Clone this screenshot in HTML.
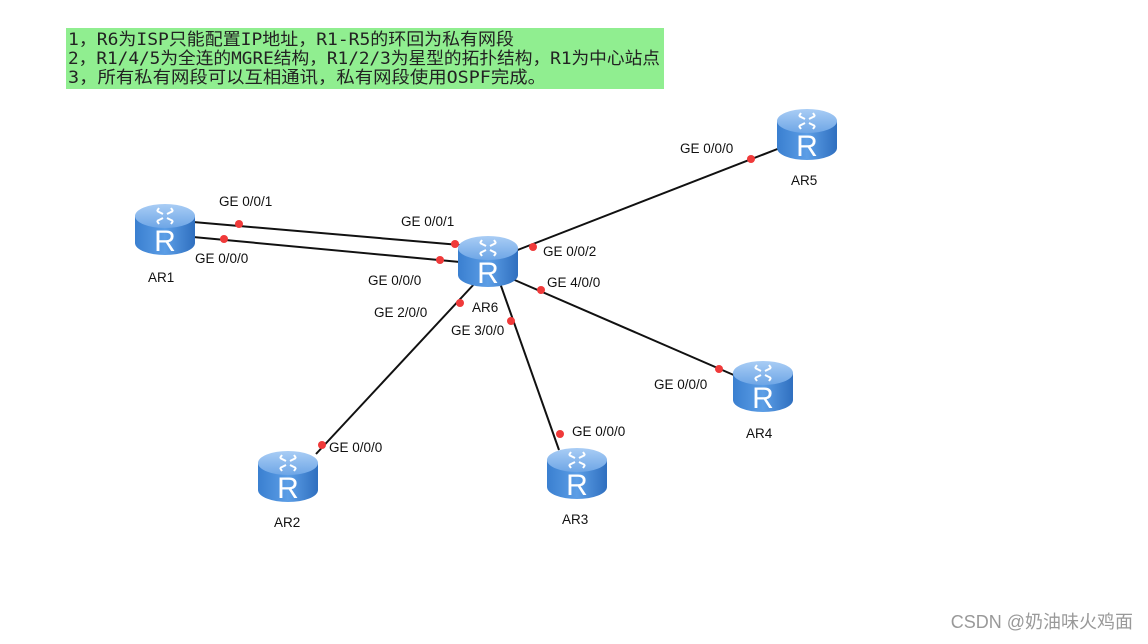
<!DOCTYPE html>
<html><head><meta charset="utf-8">
<style>
html,body{margin:0;padding:0;background:#fff;}
svg{display:block;}
.t{font-family:"Liberation Sans","Noto Sans CJK SC",sans-serif;font-size:13.5px;fill:#111;}
.n{font-family:"DejaVu Sans Mono","Noto Sans CJK SC",monospace;font-size:17px;fill:#222;}
</style></head><body>
<svg width="1148" height="644" viewBox="0 0 1148 644" xmlns="http://www.w3.org/2000/svg">
<defs>
<linearGradient id="body" x1="0" x2="1" y1="0" y2="0">
<stop offset="0" stop-color="#3a7fd0"/><stop offset="0.5" stop-color="#5c9ee6"/><stop offset="1" stop-color="#2f6fbf"/>
</linearGradient>
<linearGradient id="top" x1="0" x2="0" y1="0" y2="1">
<stop offset="0" stop-color="#a9cdf5"/><stop offset="1" stop-color="#6ea6e6"/>
</linearGradient>
<g id="r">
<path d="M0 13 L0 40 A30 12 0 0 0 60 40 L60 13 Z" fill="url(#body)"/>
<ellipse cx="30" cy="13" rx="30" ry="12" fill="url(#top)"/>
<g stroke="#fff" stroke-width="2" fill="none">
<path d="M22 8 L28 11 M22 8 L24 5"/><path d="M38 18 L32 15 M38 18 L36 21"/>
<path d="M38 8 L32 11 M38 8 L36 5"/><path d="M22 18 L28 15 M22 18 L24 21"/>
</g>
<text x="30" y="48" text-anchor="middle" font-family="Liberation Sans,sans-serif" font-size="30" fill="#fff">R</text>
</g>
</defs>
<rect x="66" y="28" width="598" height="61" fill="#90ee90"/>
<text class="n" x="68" y="45" textLength="446" lengthAdjust="spacingAndGlyphs">1，R6为ISP只能配置IP地址，R1-R5的环回为私有网段</text>
<text class="n" x="68" y="64" textLength="592" lengthAdjust="spacingAndGlyphs">2，R1/4/5为全连的MGRE结构，R1/2/3为星型的拓扑结构，R1为中心站点</text>
<text class="n" x="68" y="83" textLength="478" lengthAdjust="spacingAndGlyphs">3，所有私有网段可以互相通讯，私有网段使用OSPF完成。</text>
<g stroke="#111" stroke-width="2">
<line x1="193" y1="222" x2="460" y2="245"/>
<line x1="193" y1="237" x2="460" y2="262"/>
<line x1="515" y1="251" x2="780" y2="148"/>
<line x1="510" y1="278" x2="736" y2="376"/>
<line x1="476" y1="282" x2="316" y2="454"/>
<line x1="500" y1="283" x2="559" y2="450"/>
</g>
<g fill="#f03a3a">
<circle cx="239" cy="224" r="4"/><circle cx="455" cy="244" r="4"/>
<circle cx="224" cy="239" r="4"/><circle cx="440" cy="260" r="4"/>
<circle cx="533" cy="247" r="4"/><circle cx="751" cy="159" r="4"/>
<circle cx="541" cy="290" r="4"/><circle cx="719" cy="369" r="4"/>
<circle cx="460" cy="303" r="4"/><circle cx="322" cy="445" r="4"/>
<circle cx="511" cy="321" r="4"/><circle cx="560" cy="434" r="4"/>
</g>
<use href="#r" x="135" y="203"/>
<use href="#r" x="458" y="235"/>
<use href="#r" x="777" y="108"/>
<use href="#r" x="733" y="360"/>
<use href="#r" x="258" y="450"/>
<use href="#r" x="547" y="447"/>
<text class="t" x="219" y="206">GE 0/0/1</text>
<text class="t" x="401" y="226">GE 0/0/1</text>
<text class="t" x="195" y="263">GE 0/0/0</text>
<text class="t" x="368" y="285">GE 0/0/0</text>
<text class="t" x="680" y="153">GE 0/0/0</text>
<text class="t" x="543" y="256">GE 0/0/2</text>
<text class="t" x="547" y="287">GE 4/0/0</text>
<text class="t" x="374" y="317">GE 2/0/0</text>
<text class="t" x="451" y="335">GE 3/0/0</text>
<text class="t" x="329" y="452">GE 0/0/0</text>
<text class="t" x="572" y="436">GE 0/0/0</text>
<text class="t" x="654" y="389">GE 0/0/0</text>
<text class="t" x="148" y="282" font-size="14">AR1</text>
<text class="t" x="472" y="312" font-size="14">AR6</text>
<text class="t" x="791" y="185" font-size="14">AR5</text>
<text class="t" x="746" y="438" font-size="14">AR4</text>
<text class="t" x="274" y="527" font-size="14">AR2</text>
<text class="t" x="562" y="524" font-size="14">AR3</text>
<text x="1133" y="628" text-anchor="end" font-family="Liberation Sans,Noto Sans CJK SC,sans-serif" font-size="18" fill="#999">CSDN @奶油味火鸡面</text>
</svg>
</body></html>
